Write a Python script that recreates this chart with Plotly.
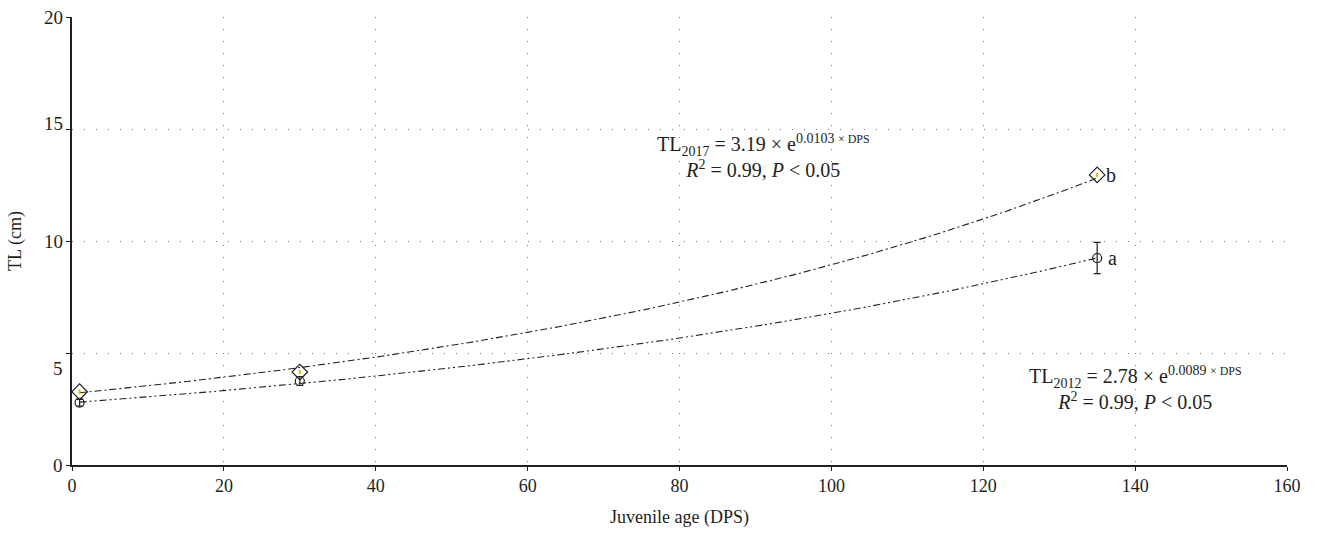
import numpy as np
import plotly.graph_objects as go

# Juvenile age (days post-spawning) at each sampling
age_dps = [1, 30, 135]

# Mean total length (cm), 2012 and 2017 cohorts
tl_2012 = [2.78, 3.75, 9.24]
tl_2012_err = [0.15, 0.2, 0.7]
tl_2017 = [3.27, 4.15, 12.95]
tl_2017_err = [0.1, 0.1, 0.1]

# Exponential fits TL = a * exp(b * DPS)
fit_2012 = (2.78, 0.0089)
fit_2017 = (3.19, 0.0103)

x_ticks = [0, 20, 40, 60, 80, 100, 120, 140, 160]
y_ticks = [0, 5, 10, 15, 20]
y_tick_shift = [0, -15, 0, 6, 0]

FONT = "Liberation Serif"
INK = "#231f20"

x_fit = np.linspace(age_dps[0], age_dps[-1], 200)

fig = go.Figure()

fig.add_trace(go.Scatter(
    x=x_fit, y=fit_2017[0] * np.exp(fit_2017[1] * x_fit), mode="lines",
    line=dict(color=INK, width=1.1, dash="7px,3px,2px,3px"), hoverinfo="skip"))
fig.add_trace(go.Scatter(
    x=x_fit, y=fit_2012[0] * np.exp(fit_2012[1] * x_fit), mode="lines",
    line=dict(color=INK, width=1.1, dash="7px,3px,2px,3px,2px,3px"), hoverinfo="skip"))

fig.add_trace(go.Scatter(
    x=age_dps, y=tl_2012, mode="markers",
    marker=dict(symbol="circle", size=9, color="rgba(0,0,0,0)",
                line=dict(color=INK, width=1.2)),
    error_y=dict(type="data", array=tl_2012_err, color=INK, thickness=1.2, width=3.5)))
fig.add_trace(go.Scatter(
    x=age_dps, y=tl_2017, mode="markers",
    marker=dict(symbol="diamond", size=12, color="rgba(0,0,0,0)",
                line=dict(color=INK, width=1.2)),
    error_y=dict(type="data", array=tl_2017_err, color="#f2b200", thickness=2, width=0)))

annotations = []
for v, s in zip(y_ticks, y_tick_shift):
    annotations.append(dict(
        x=0, xref="paper", y=v, yref="y", text=str(v), showarrow=False,
        xanchor="right", yanchor="middle", xshift=-7, yshift=s,
        font=dict(family=FONT, size=19, color=INK)))

eq_font = dict(family=FONT, size=20, color=INK)
annotations += [
    dict(x=91.1, y=13.8, xref="x", yref="y", showarrow=False, align="center",
         xanchor="center", yanchor="middle",
         text=("TL<sub>2017</sub> = 3.19 × e<sup>0.0103 <span style='font-size:12px'>× DPS</span></sup>"
               "<br><i>R</i><sup>2</sup> = 0.99, <i>P</i> &lt; 0.05"),
         font=eq_font),
    dict(x=140.1, y=3.44, xref="x", yref="y", showarrow=False, align="center",
         xanchor="center", yanchor="middle",
         text=("TL<sub>2012</sub> = 2.78 × e<sup>0.0089 <span style='font-size:12px'>× DPS</span></sup>"
               "<br><i>R</i><sup>2</sup> = 0.99, <i>P</i> &lt; 0.05"),
         font=eq_font),
    dict(x=age_dps[-1], y=tl_2017[-1], text="b", showarrow=False,
         xanchor="left", yanchor="middle", xshift=7,
         font=eq_font),
    dict(x=age_dps[-1], y=tl_2012[-1], text="a", showarrow=False,
         xanchor="left", yanchor="middle", xshift=9,
         font=eq_font),
]

fig.update_layout(
    width=1319, height=536,
    margin=dict(l=72, r=32, t=17, b=71),
    paper_bgcolor="white", plot_bgcolor="white",
    showlegend=False,
    font=dict(family=FONT, size=18, color=INK),
    annotations=annotations,
    xaxis=dict(
        range=[0, 160], tickvals=x_ticks, showline=True, linecolor=INK, linewidth=1.5,
        ticks="outside", ticklen=4, tickcolor=INK, tickwidth=1,
        showgrid=True, gridcolor="#777777", griddash="1px,11px", gridwidth=1,
        zeroline=False, tickfont=dict(family=FONT, size=18, color=INK),
        title=dict(text="Juvenile age (DPS)", standoff=15,
                   font=dict(family=FONT, size=18, color=INK)),
    ),
    yaxis=dict(
        range=[0, 20], tickvals=y_ticks, showticklabels=False,
        showline=True, linecolor=INK, linewidth=1.5,
        ticks="outside", ticklen=4, tickcolor=INK, tickwidth=1,
        showgrid=True, gridcolor="#777777", griddash="1px,11px", gridwidth=1,
        zeroline=False,
        title=dict(text="TL (cm)", standoff=40,
                   font=dict(family=FONT, size=18, color=INK)),
    ),
)

fig.write_html("out.html")
